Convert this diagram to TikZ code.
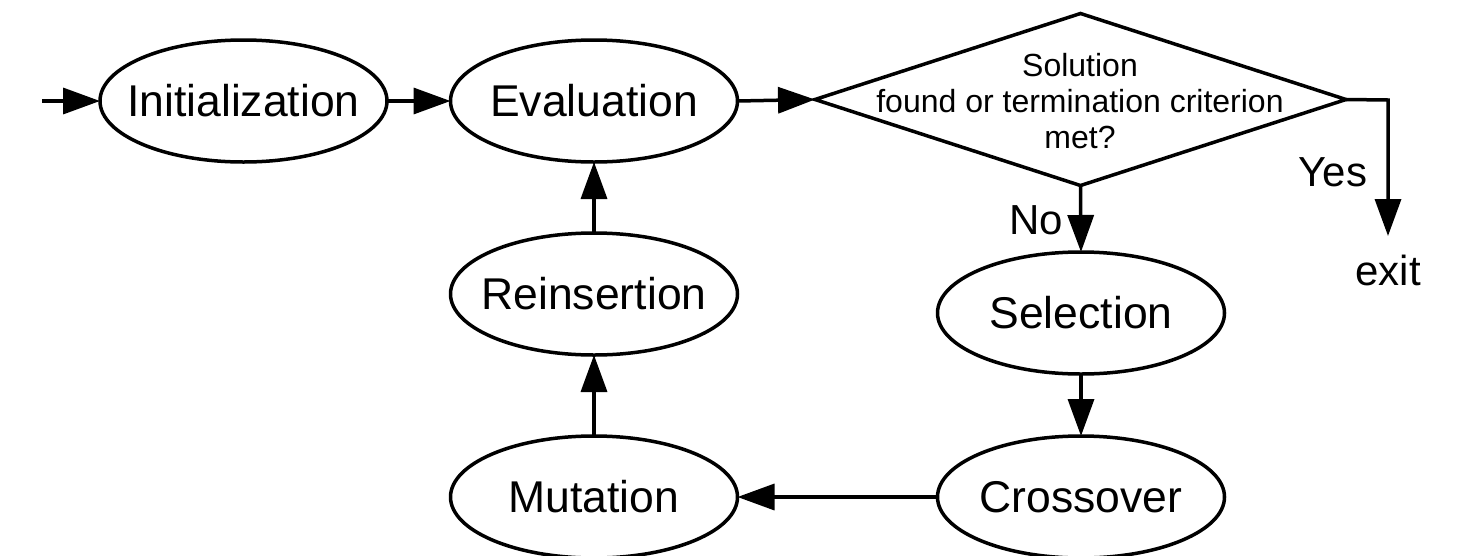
\documentclass[tikz,border=0pt]{standalone}
\usepackage{fontspec}
\setmainfont{Liberation Sans}
\usetikzlibrary{shapes.geometric,arrows.meta}
\begin{document}
\begin{tikzpicture}[x=1pt,y=-1pt,
  every path/.style={line width=3.5pt},
  oval/.style={ellipse,draw,line width=3.5pt,minimum width=287pt,minimum height=122pt,inner sep=0pt,outer sep=0pt},
  lbl/.style={font=\fontsize{44.5}{50}\selectfont,inner sep=0pt},
  small/.style={font=\fontsize{42}{46}\selectfont,inner sep=0pt},
  arr/.style={line width=3.5pt,-{Triangle[length=37pt,width=26pt]}},
  plain/.style={line width=3.5pt}]
\useasboundingbox (0,0) rectangle (1457,555);
% ellipses
\node[oval] (init) at (243.5,101) {};
\node[lbl] at (init) {Initialization};
\node[oval] (eval) at (594,101) {};
\node[lbl] at (eval) {Evaluation};
\node[oval] (rein) at (594,294) {};
\node[lbl] at (rein) {Reinsertion};
\node[oval] (mut) at (594,497) {};
\node[lbl] at (mut) {Mutation};
\node[oval] (sel) at (1081,313) {};
\node[lbl] at (sel) {Selection};
\node[oval] (cross) at (1081,497) {};
\node[lbl] at (cross) {Crossover};
% diamond
\node[diamond,draw,line width=3.5pt,minimum width=531pt,minimum height=172pt,inner sep=0pt,outer sep=0pt,aspect=3] (dec) at (1080.5,99.5) {};
\node[align=center,font=\fontsize{32}{36}\selectfont,inner sep=0pt] (dectext) at (1080,101) {Solution\\found or termination criterion\\met?};
% labels
\node[small] (no) at (1036,220) {No};
\node[small] (yes) at (1333,172) {Yes};
\node[small,anchor=base] (exit) at (1388,285) {exit};
% connectors
\coordinate (start) at (42,101);
\coordinate (yescorner) at (1388,100);
\coordinate (yesend) at (1388,236);
\draw[arr] (start) -- (init.west);
\draw[arr] (init.east) -- (eval.west);
\draw[arr] (eval.east) -- (dec.west);
\draw[arr] (dec.south) -- (sel.north);
\draw[arr] (dec.east) -- (yescorner) -- (yesend);
\draw[arr] (sel.south) -- (cross.north);
\draw[arr] (cross.west) -- (mut.east);
\draw[arr] (mut.north) -- (rein.south);
\draw[arr] (rein.north) -- (eval.south);
\end{tikzpicture}
\end{document}
